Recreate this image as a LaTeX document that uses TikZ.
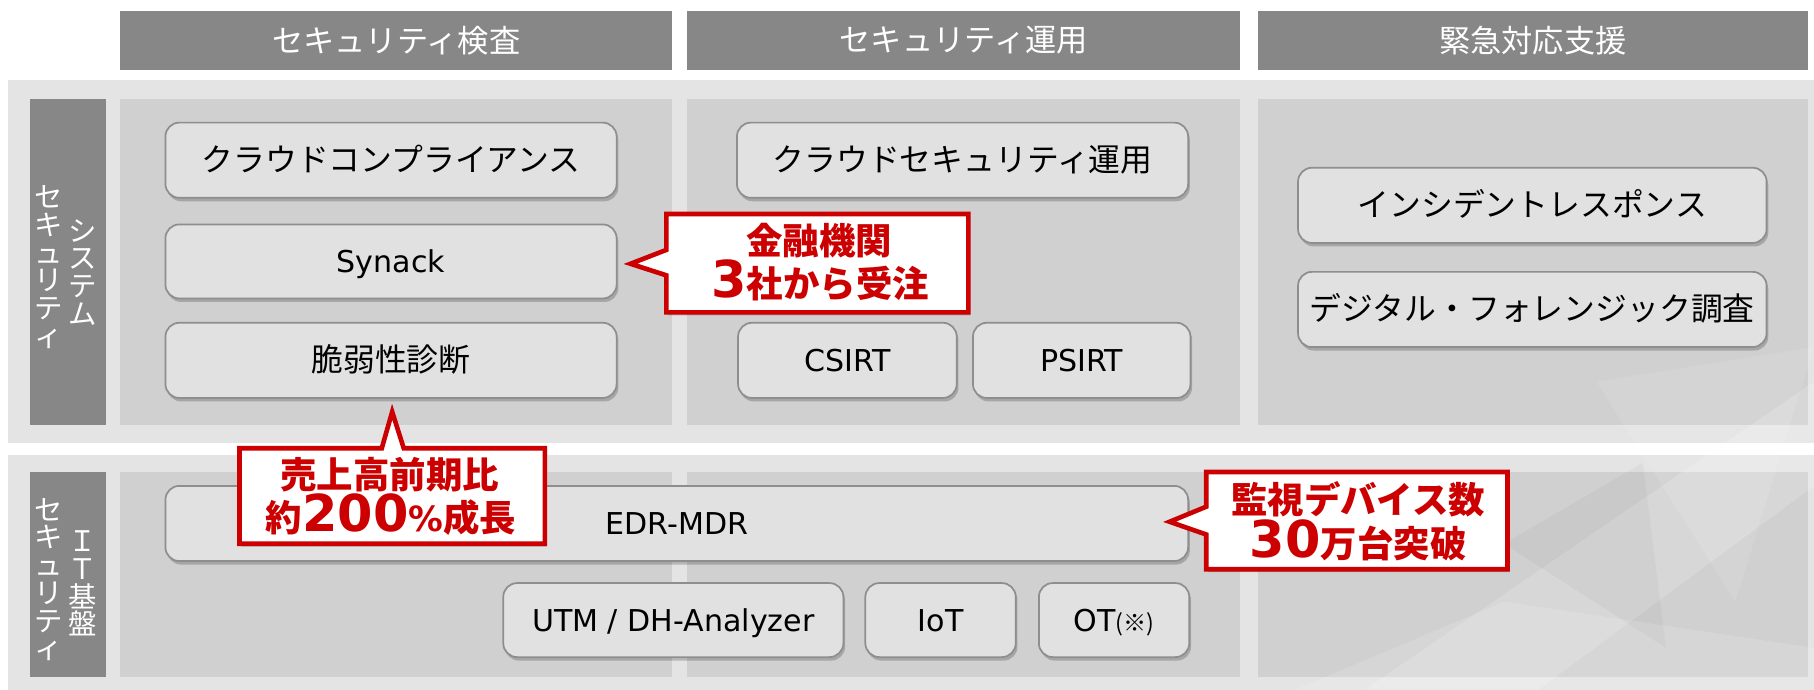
\documentclass[tikz,border=0pt]{standalone}
\usepackage{fontspec}
\setmainfont{DejaVu Sans}
\newfontfamily\jp{Noto Sans CJK JP}
\newfontfamily\djb{DejaVu Sans}
\usetikzlibrary{shadows,calc}
\definecolor{hdr}{HTML}{878787}
\definecolor{bandc}{HTML}{E4E4E4}
\definecolor{panelc}{HTML}{D0D0D0}
\definecolor{boxfill}{HTML}{E1E1E1}
\definecolor{boxline}{HTML}{8E8E8E}
\definecolor{cred}{HTML}{CC0000}
\tikzset{
  hdrbox/.style={fill=hdr, text=white, inner sep=0, outer sep=0, font=\jp\fontsize{27}{32}\selectfont},
  pbox/.style={draw=boxline, line width=1.5pt, fill=boxfill, rounded corners=12pt, inner sep=0, outer sep=0,
    text height=22pt, text depth=3pt,
    drop shadow={shadow xshift=1.5pt, shadow yshift=-3pt, opacity=0.2, fill=black}},
  jpf/.style={font=\jp\fontsize{27.5}{33}\selectfont},
  latf/.style={font=\fontsize{26}{31}\selectfont},
  vtext/.style={text=white, align=center, inner sep=0, font=\jp\fontsize{24.5}{24}\selectfont},
  callout/.style={draw=cred, fill=white, line width=4pt, line join=miter,
    drop shadow={shadow xshift=1.5pt, shadow yshift=-2.5pt, opacity=0.2, fill=black}},
  ctext/.style={text=cred, anchor=base, inner sep=0, font=\jp\bfseries},
}
\newcommand{\kj}{\fontsize{31.5}{32}\selectfont}
\newcommand{\bignum}[1]{{\djb\bfseries\fontsize{44}{44}\selectfont #1}}
\lineskiplimit=-100pt
\begin{document}
\begin{tikzpicture}[x=1pt,y=-1pt]
\fill[white] (0,0) rectangle (1568,596);
\useasboundingbox (0,0) rectangle (1568,596);
% bands
\fill[bandc] (7,69) rectangle (1568,382.6);
\fill[bandc] (7,393.3) rectangle (1568,596);
% panels
\fill[panelc] (104,85.6) rectangle (581,367);
\fill[panelc] (594,85.6) rectangle (1072,367);
\fill[panelc] (1087,85.6) rectangle (1563,367);
\fill[panelc] (104,407.7) rectangle (581,585);
\fill[panelc] (594,407.7) rectangle (1072,585);
\fill[panelc] (1087,407.7) rectangle (1563,585);
% background texture
\fill[white, opacity=0.16] (1180,596) -- (1568,330) -- (1568,420) -- (1330,596) -- cycle;
\fill[white, opacity=0.10] (1380,330) -- (1568,300) -- (1500,520) -- cycle;
\fill[black, opacity=0.03] (1300,470) -- (1420,400) -- (1440,560) -- cycle;
\fill[white, opacity=0.14] (1120,596) -- (1300,520) -- (1568,560) -- (1568,596) -- cycle;
% side bars
\fill[hdr] (26,85.6) rectangle (92,367);
\fill[hdr] (26,407.7) rectangle (92,585);
\node[vtext] (v1a) at (42.5,231) {セ\\キ\\ュ\\リ\\テ\\ィ};
\node[vtext] (v1b) at (71.5,235.5) {シ\\ス\\テ\\ム};
\node[vtext] (v2a) at (42.5,501) {セ\\キ\\ュ\\リ\\テ\\ィ};
\node[vtext] (v2b) at (71.5,504.5) {Ｉ\\Ｔ\\基\\盤};
% headers
\node[hdrbox, minimum width=477pt, minimum height=51pt] (h1) at (342.5,35) {セキュリティ検査};
\node[hdrbox, minimum width=478pt, minimum height=51pt] (h2) at (833,35) {セキュリティ運用};
\node[hdrbox, minimum width=476pt, minimum height=51pt] (h3) at (1325,35) {緊急対応支援};
% boxes
\node[pbox, jpf, minimum width=390pt, minimum height=65pt] (b1) at (338,138.5) {クラウドコンプライアンス};
\node[pbox, latf, minimum width=390pt, minimum height=64pt] (b2) at (338,226) {Synack};
\node[pbox, jpf, minimum width=390pt, minimum height=65pt] (b3) at (338,311.5) {脆弱性診断};
\node[pbox, jpf, minimum width=390pt, minimum height=65pt] (b4) at (832,138.5) {クラウドセキュリティ運用};
\node[pbox, latf, minimum width=189pt, minimum height=65pt] (b5) at (732.5,311.5) {CSIRT};
\node[pbox, latf, minimum width=188pt, minimum height=65pt] (b6) at (935,311.5) {PSIRT};
\node[pbox, jpf, minimum width=405pt, minimum height=65pt] (b7) at (1324.5,177.5) {インシデントレスポンス};
\node[pbox, jpf, minimum width=405pt, minimum height=65pt] (b8) at (1324.5,267.5) {デジタル・フォレンジック調査};
\node[pbox, latf, minimum width=884pt, minimum height=65pt] (b9) at (585,452.5) {EDR-MDR};
\node[pbox, latf, minimum width=294pt, minimum height=64pt] (b10) at (582,536) {UTM / DH-Analyzer};
\node[pbox, latf, minimum width=130pt, minimum height=64pt] (b11) at (813,536) {IoT};
\node[pbox, latf, minimum width=130pt, minimum height=64pt] (b12) at (963,536) {OT{\jp\fontsize{20}{20}\selectfont(※)}};
% callout 1
\coordinate (t1) at (545,228);
\node[inner sep=0, outer sep=0, minimum width=261pt, minimum height=85pt] (c1) at (706.5,227.5) {};
\path[callout] (c1.north west) -- (c1.north east) -- (c1.south east) -- (c1.south west)
  -- ($(c1.west)+(0,10.5)$) -- (t1) -- ($(c1.west)+(0,-11.5)$) -- cycle;
\node[ctext] (c1a) at (708,220) {\kj 金融機関};
\node[ctext] (c1b) at (709,257) {\bignum{3}\kj 社から受注};
% callout 2
\coordinate (t2) at (339,356);
\node[inner sep=0, outer sep=0, minimum width=264pt, minimum height=82.5pt] (c2) at (339,428.75) {};
\path[callout] (c2.north west) -- ($(c2.north)+(-9,0)$) -- (t2) -- ($(c2.north)+(10,0)$) -- (c2.north east)
  -- (c2.south east) -- (c2.south west) -- cycle;
\node[ctext] (c2a) at (337,422.5) {\kj 売上高前期比};
\node[ctext] (c2b) at (338,459) {\kj 約\bignum{200}{\djb\bfseries\fontsize{30}{30}\selectfont\%}成長};
% callout 3
\coordinate (t3) at (1011,451);
\node[inner sep=0, outer sep=0, minimum width=260.4pt, minimum height=84pt] (c3) at (1172.8,450) {};
\path[callout] (c3.north west) -- (c3.north east) -- (c3.south east) -- (c3.south west)
  -- ($(c3.west)+(0,12)$) -- (t3) -- ($(c3.west)+(0,-12)$) -- cycle;
\node[ctext] (c3a) at (1174,443.5) {\kj 監視デバイス数};
\node[ctext] (c3b) at (1174,482) {\bignum{30}\kj 万台突破};
\end{tikzpicture}
\end{document}
